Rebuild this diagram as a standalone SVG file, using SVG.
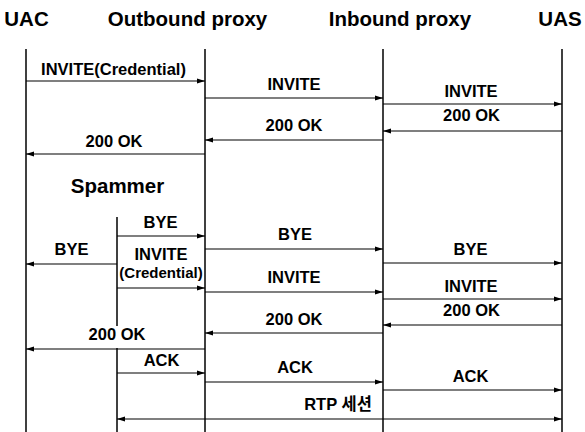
<svg xmlns="http://www.w3.org/2000/svg" width="585" height="432" viewBox="0 0 585 432">
<style>
text{font-family:"Liberation Sans",Arial,sans-serif;font-weight:bold;fill:#000;text-anchor:middle}
.h{font-size:20.5px}
.l{font-size:16.5px}
.life{stroke:#000;stroke-width:1.5;fill:none}
.msg{stroke:#000;stroke-width:1.2;fill:none;marker-end:url(#ah)}
</style>
<defs>
<marker id="ah" markerUnits="userSpaceOnUse" markerWidth="9" markerHeight="6" refX="8" refY="3" orient="auto">
<path d="M0,0.5 L8,3 L0,5.5 Z" fill="#000"/>
</marker>
<marker id="ahs" markerUnits="userSpaceOnUse" markerWidth="9" markerHeight="6" refX="0" refY="3" orient="auto">
<path d="M8,0.5 L0,3 L8,5.5 Z" fill="#000"/>
</marker>
</defs>
<rect width="585" height="432" fill="#fff"/>
<g id="uac"><text class="h" x="26.5" y="26">UAC</text><line class="life" x1="26" y1="49" x2="26" y2="432"/></g>
<g id="outbound"><text class="h" x="187.5" y="26">Outbound proxy</text><line class="life" x1="205" y1="49" x2="205" y2="432"/></g>
<g id="inbound"><text class="h" x="400" y="26">Inbound proxy</text><line class="life" x1="383" y1="49" x2="383" y2="432"/></g>
<g id="uas"><text class="h" x="560" y="26">UAS</text><line class="life" x1="562" y1="49" x2="562" y2="432"/></g>
<g id="spammer"><text class="h" x="117.5" y="193">Spammer</text><line class="life" x1="117" y1="217" x2="117" y2="326"/><line class="life" x1="117" y1="348" x2="117" y2="432"/></g>
<g id="connectors">
<line class="msg" x1="26" y1="81" x2="205" y2="81"/>
<line class="msg" x1="205" y1="98" x2="383" y2="98"/>
<line class="msg" x1="383" y1="104" x2="562" y2="104"/>
<line class="msg" x1="562" y1="131" x2="383" y2="131"/>
<line class="msg" x1="383" y1="140" x2="205" y2="140"/>
<line class="msg" x1="205" y1="154" x2="26" y2="154"/>
<line class="msg" x1="117" y1="236" x2="205" y2="236"/>
<line class="msg" x1="117" y1="264" x2="26" y2="264"/>
<line class="msg" x1="205" y1="249" x2="383" y2="249"/>
<line class="msg" x1="383" y1="263" x2="562" y2="263"/>
<line class="msg" x1="117" y1="288" x2="205" y2="288"/>
<line class="msg" x1="205" y1="292" x2="383" y2="292"/>
<line class="msg" x1="383" y1="299" x2="562" y2="299"/>
<line class="msg" x1="562" y1="325" x2="383" y2="325"/>
<line class="msg" x1="383" y1="333" x2="205" y2="333"/>
<line class="msg" x1="205" y1="349" x2="26" y2="349"/>
<line class="msg" x1="117" y1="373" x2="205" y2="373"/>
<line class="msg" x1="205" y1="382" x2="383" y2="382"/>
<line class="msg" x1="383" y1="390" x2="562" y2="390"/>
<line class="msg" x1="117" y1="419" x2="562" y2="419" marker-start="url(#ahs)"/>
<text class="l" x="113.5" y="75">INVITE(Credential)</text>
<text class="l" x="294" y="90">INVITE</text>
<text class="l" x="471" y="97">INVITE</text>
<text class="l" x="471.5" y="121">200 OK</text>
<text class="l" x="294" y="131">200 OK</text>
<text class="l" x="114" y="147">200 OK</text>
<text class="l" x="160.5" y="228">BYE</text>
<text class="l" x="71.5" y="255">BYE</text>
<text class="l" x="295" y="240">BYE</text>
<text class="l" x="470.5" y="255">BYE</text>
<text class="l" x="161" y="260">INVITE</text>
<text class="l" x="161" y="278" style="font-size:15px">(Credential)</text>
<text class="l" x="294" y="283">INVITE</text>
<text class="l" x="471" y="292">INVITE</text>
<text class="l" x="471.5" y="316">200 OK</text>
<text class="l" x="294" y="325">200 OK</text>
<text class="l" x="117" y="340">200 OK</text>
<text class="l" x="161.5" y="366">ACK</text>
<text class="l" x="295" y="373">ACK</text>
<text class="l" x="470.5" y="382">ACK</text>
<text class="l" x="338" y="410" style="font-family:'Liberation Sans','Noto Sans CJK KR',sans-serif">RTP 세션</text>
</g>
</svg>
